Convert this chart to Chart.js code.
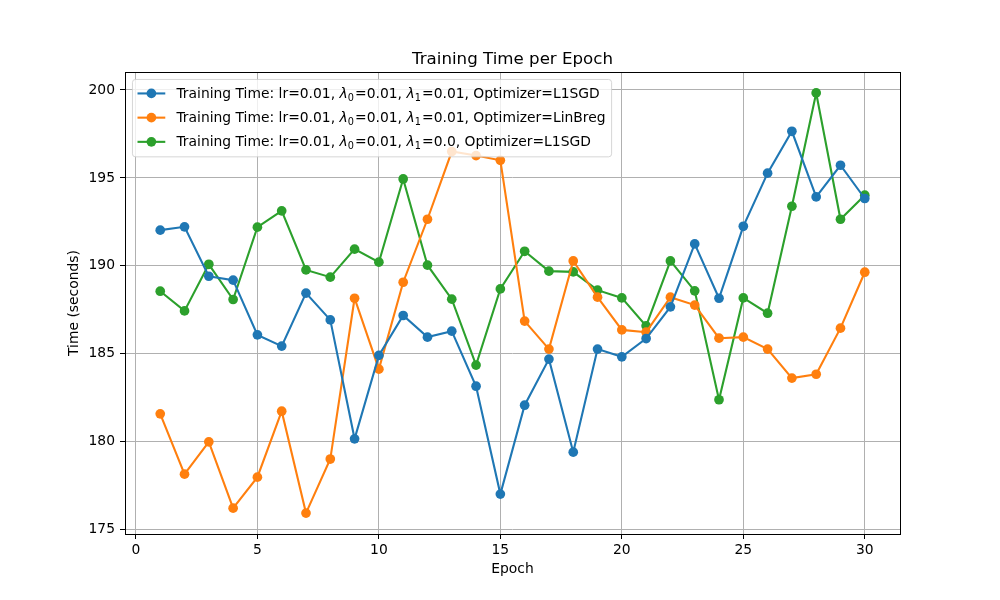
<!DOCTYPE html>
<html>
<head>
<meta charset="utf-8">
<title>Training Time per Epoch</title>
<script src="https://cdn.jsdelivr.net/npm/chart.js@4.4.0/dist/chart.umd.min.js"></script>
<style>
  html, body { margin: 0; padding: 0; background: #fff; }
  #wrap { width: 1000px; height: 600px; }
</style>
</head>
<body>
<div id="wrap"><canvas id="timeChart" width="1000" height="600"></canvas></div>
<script>
// data
const epochs = [1, 2, 3, 4, 5, 6, 7, 8, 9, 10, 11, 12, 13, 14, 15,
                16, 17, 18, 19, 20, 21, 22, 23, 24, 25, 26, 27, 28, 29, 30];

const timeL1SGD = [192.03, 192.22, 189.41, 189.19, 186.08, 185.44, 188.45, 186.93, 180.17, 184.91,
                   187.18, 185.95, 186.29, 183.16, 177.03, 182.08, 184.70, 179.41, 185.27, 184.83,
                   185.87, 187.67, 191.25, 188.16, 192.25, 195.27, 197.65, 193.92, 195.72, 193.83];

const timeLinBreg = [181.59, 178.16, 180.00, 176.23, 177.99, 181.74, 175.95, 179.02, 188.16, 184.13,
                     189.07, 192.65, 196.50, 196.27, 196.00, 186.86, 185.27, 190.28, 188.22, 186.36,
                     186.23, 188.22, 187.77, 185.89, 185.95, 185.27, 183.62, 183.84, 186.46, 189.64];

const timeL1SGDNoL1 = [188.56, 187.44, 190.09, 188.09, 192.20, 193.13, 189.77, 189.36, 190.95, 190.21,
                       194.94, 190.04, 188.11, 184.36, 188.69, 190.83, 189.70, 189.66, 188.62, 188.18,
                       186.59, 190.28, 188.58, 182.39, 188.18, 187.31, 193.39, 199.83, 192.65, 194.02];

const seriesLabels = [
    'Training Time: lr=0.01, $\\lambda_0$=0.01, $\\lambda_1$=0.01, Optimizer=L1SGD',
    'Training Time: lr=0.01, $\\lambda_0$=0.01, $\\lambda_1$=0.01, Optimizer=LinBreg',
    'Training Time: lr=0.01, $\\lambda_0$=0.01, $\\lambda_1$=0.0, Optimizer=L1SGD'
];

const xTicks = [0, 5, 10, 15, 20, 25, 30];
const yTicks = [175, 180, 185, 190, 195, 200];

const chartTitle = 'Training Time per Epoch';
const xTitle = 'Epoch';
const yTitle = 'Time (seconds)';

const FONT = 'DejaVu Sans';
const FS = 13.89;   // 10pt at 100 dpi
const DOT = 4.85;   // marker radius

Chart.defaults.font.family = FONT;
Chart.defaults.color = '#000';

// split a label with $\lambda_N$ bits into styled pieces
function parseLabel(str) {
    const parts = [];
    str.split('$').forEach((chunk, i) => {
        if (i % 2 === 0) {
            if (chunk) parts.push({ text: chunk, style: 'normal' });
            return;
        }
        const m = chunk.match(/^\\lambda(?:_(\w+))?$/);
        parts.push({ text: '\u03bb', style: 'italic' });
        if (m && m[1]) parts.push({ text: m[1], style: 'sub' });
    });
    return parts;
}

function partFont(style) {
    if (style === 'italic') return 'oblique ' + FS + 'px "' + FONT + '"';
    if (style === 'sub') return (FS * 0.7) + 'px "' + FONT + '"';
    return FS + 'px "' + FONT + '"';
}

// mathtext leaves a little room after the subscript
function partWidth(ctx, p) {
    ctx.font = partFont(p.style);
    return ctx.measureText(p.text).width + (p.style === 'sub' ? 1.2 : 0);
}

function plainLabel(str) {
    return parseLabel(str).map(p => p.text).join('');
}

function measureParts(ctx, parts) {
    return parts.reduce((w, p) => w + partWidth(ctx, p), 0);
}

function drawParts(ctx, parts, x, baseline) {
    parts.forEach(p => {
        ctx.font = partFont(p.style);
        const dy = p.style === 'sub' ? FS * 0.22 : 0;
        ctx.fillText(p.text, x, baseline + dy);
        x += partWidth(ctx, p);
    });
}

function makeSet(label, values, color) {
    return {
        label: plainLabel(label),
        mathLabel: label,
        data: values.map((v, i) => ({ x: epochs[i], y: v })),
        borderColor: color,
        backgroundColor: color,
        borderWidth: 2.1,
        pointRadius: DOT,
        pointHoverRadius: DOT,
        pointBorderWidth: 0,
        pointBackgroundColor: color,
        tension: 0,
        fill: false
    };
}

// title centred over the axes, and the black box around them
const frame = {
    id: 'frame',
    afterDatasetsDraw(chart) {
        const ctx = chart.ctx;
        const a = chart.chartArea;
        ctx.save();
        ctx.strokeStyle = '#000';
        ctx.lineWidth = 1;
        ctx.strokeRect(Math.round(a.left) + 0.5, Math.round(a.top) + 0.5,
                       Math.round(a.right - a.left), Math.round(a.bottom - a.top));
        ctx.fillStyle = '#000';
        ctx.font = '16.67px "' + FONT + '"';
        ctx.textAlign = 'center';
        ctx.textBaseline = 'alphabetic';
        ctx.fillText(chartTitle, (a.left + a.right) / 2, a.top - 8.5);
        ctx.restore();
    }
};

// matplotlib-like legend in the upper left, drawn over the lines
const legendBox = {
    id: 'legendBox',
    afterDraw(chart) {
        const ctx = chart.ctx;
        const a = chart.chartArea;
        const sets = chart.data.datasets;
        const rows = sets.map(ds => parseLabel(ds.mathLabel));

        ctx.save();
        const textW = Math.max(...rows.map(r => measureParts(ctx, r)));
        const x0 = a.left + 0.5 * FS;
        const y0 = a.top + 0.5 * FS;
        const pad = 0.4 * FS;
        const handleLen = 2 * FS;
        const textX = x0 + pad + handleLen + 0.8 * FS;
        const w = textX + textW + pad - x0;
        const step = 24.2;
        const first = 14.5;
        const h = first * 2 + step * (rows.length - 1);

        ctx.globalAlpha = 0.8;
        ctx.fillStyle = '#fff';
        ctx.strokeStyle = '#cccccc';
        ctx.lineWidth = 1;
        ctx.beginPath();
        ctx.roundRect(x0 + 0.5, y0 + 0.5, w, h, 3);
        ctx.fill();
        ctx.stroke();
        ctx.globalAlpha = 1;

        rows.forEach((parts, i) => {
            const cy = y0 + first + i * step;
            const color = sets[i].borderColor;
            const hx = x0 + pad;
            ctx.strokeStyle = color;
            ctx.lineWidth = 2.1;
            ctx.beginPath();
            ctx.moveTo(hx, cy);
            ctx.lineTo(hx + handleLen, cy);
            ctx.stroke();
            ctx.fillStyle = color;
            ctx.beginPath();
            ctx.arc(hx + handleLen / 2, cy, DOT, 0, Math.PI * 2);
            ctx.fill();

            ctx.fillStyle = '#000';
            ctx.textAlign = 'left';
            ctx.textBaseline = 'alphabetic';
            drawParts(ctx, parts, textX, cy + 4.5);
        });
        ctx.restore();
    }
};

const ctx = document.getElementById('timeChart').getContext('2d');
const chart = new Chart(ctx, {
    type: 'line',
    data: {
        datasets: [
            makeSet(seriesLabels[0], timeL1SGD, '#1f77b4'),
            makeSet(seriesLabels[1], timeLinBreg, '#ff7f0e'),
            makeSet(seriesLabels[2], timeL1SGDNoL1, '#2ca02c')
        ]
    },
    options: {
        responsive: false,
        animation: false,
        devicePixelRatio: 1,
        layout: { padding: { top: 72, right: 100, left: 0, bottom: 0 } },
        plugins: {
            legend: { display: false },
            title: { display: false },
            tooltip: { enabled: false }
        },
        scales: {
            x: {
                type: 'linear',
                min: -0.45,
                max: 31.45,
                afterBuildTicks: scale => { scale.ticks = xTicks.map(v => ({ value: v })); },
                afterFit: scale => { scale.height = 66; },
                ticks: {
                    autoSkip: false,
                    maxRotation: 0,
                    padding: 3,
                    font: { size: FS },
                    color: '#000'
                },
                grid: { color: '#b0b0b0', lineWidth: 1, tickColor: '#000', tickLength: 5 },
                border: { display: false },
                title: {
                    display: true,
                    text: xTitle,
                    color: '#000',
                    font: { size: FS },
                    padding: { top: 0, bottom: 22.5 }
                }
            },
            y: {
                type: 'linear',
                min: 174.76,
                max: 201.02,
                afterBuildTicks: scale => { scale.ticks = yTicks.map(v => ({ value: v })); },
                afterFit: scale => { scale.width = 125; },
                ticks: {
                    autoSkip: false,
                    padding: 5,
                    font: { size: FS },
                    color: '#000'
                },
                grid: { color: '#b0b0b0', lineWidth: 1, tickColor: '#000', tickLength: 5 },
                border: { display: false },
                title: {
                    display: true,
                    text: yTitle,
                    color: '#000',
                    font: { size: FS },
                    padding: { top: 66.5, bottom: 0 }
                }
            }
        }
    },
    plugins: [frame, legendBox]
});
</script>
</body>
</html>
